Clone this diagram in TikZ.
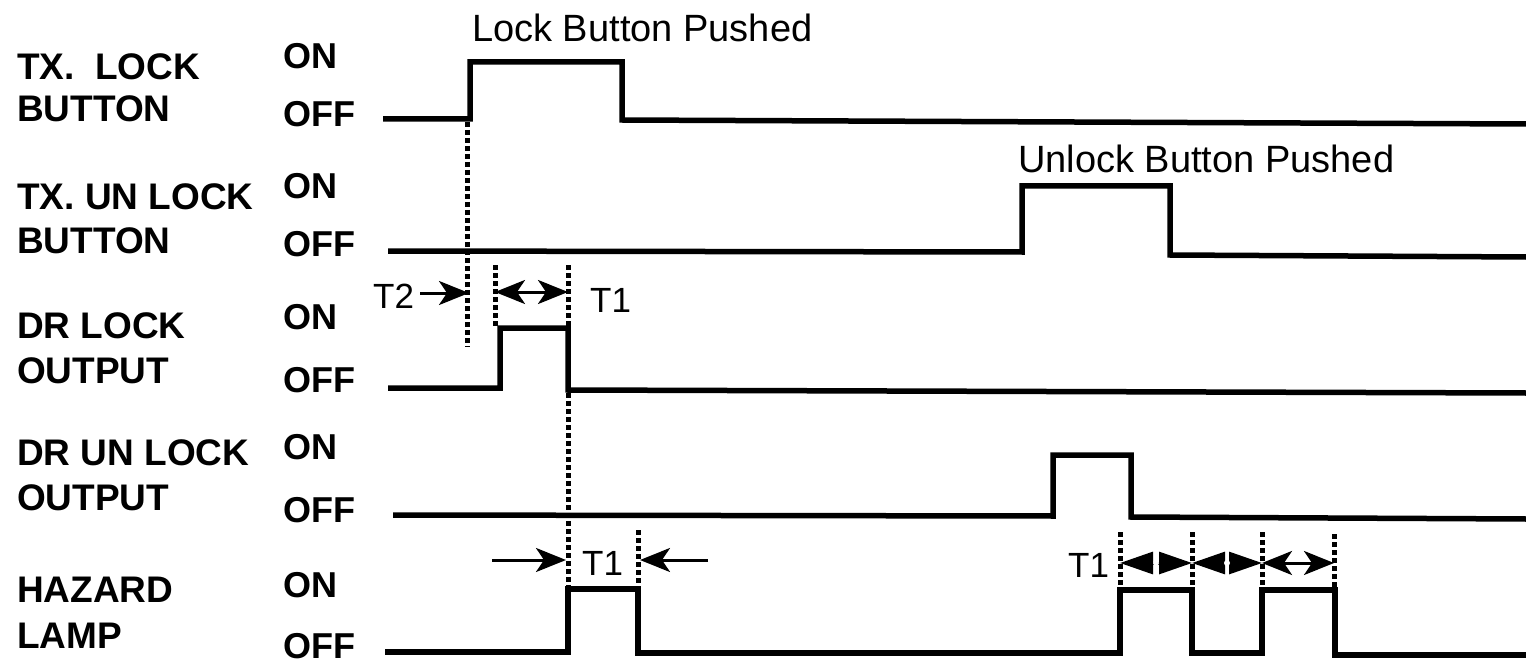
\documentclass[tikz,border=0pt]{standalone}
\usepackage{fontspec}
\setmainfont{Liberation Sans}
\usetikzlibrary{arrows.meta,calc}
\begin{document}
\begin{tikzpicture}[x=1pt,y=-1pt,
  lbl/.style={anchor=base west,inner sep=0pt,font=\fontsize{37}{37}\selectfont\bfseries},
  lvl/.style={anchor=base west,inner sep=0pt,font=\fontsize{36}{36}\selectfont\bfseries},
  note/.style={anchor=base west,inner sep=0pt,font=\fontsize{38}{38}\selectfont},
  tlbl/.style={anchor=base west,inner sep=0pt,font=\fontsize{35}{35}\selectfont},
  sig/.style={line width=5.5pt,line join=miter},
  dots/.style={line width=5pt,dash pattern=on 5pt off 3pt},
  tip/.tip={Stealth[length=30pt,width=24pt,inset=8pt]},
  tarr/.style={line width=3pt,-tip},
  tdbl/.style={line width=3pt,tip-tip},
  tdia/.style={line width=3pt,{Triangle[length=33pt,width=22pt]}-{Triangle[length=33pt,width=22pt]}}]
\useasboundingbox (0,0) rectangle (1526,663);
% row labels
\node[lbl] (l1a) at (17,80) {TX.\ \ LOCK};
\node[lbl] (l1b) at (17,122) {BUTTON};
\node[lbl] (l2a) at (17,210) {TX. UN LOCK};
\node[lbl] (l2b) at (17,253) {BUTTON};
\node[lbl] (l3a) at (17,338) {DR LOCK};
\node[lbl] (l3b) at (17,383) {OUTPUT};
\node[lbl] (l4a) at (17,465) {DR UN LOCK};
\node[lbl] (l4b) at (17,510) {OUTPUT};
\node[lbl] (l5a) at (17,602) {HAZARD};
\node[lbl] (l5b) at (17,648) {LAMP};
% levels
\node[lvl] (on1) at (283,69) {ON};
\node[lvl] (off1) at (283,127) {OFF};
\node[lvl] (on2) at (283,199) {ON};
\node[lvl] (off2) at (283,256) {OFF};
\node[lvl] (on3) at (283,329) {ON};
\node[lvl] (off3) at (283,392) {OFF};
\node[lvl] (on4) at (283,459) {ON};
\node[lvl] (off4) at (283,522) {OFF};
\node[lvl] (on5) at (283,597) {ON};
\node[lvl] (off5) at (283,658) {OFF};
% notes
\node[note] (n1) at (472,42) {Lock Button Pushed};
\node[note] (n2) at (1018,173) {Unlock Button Pushed};
% waveforms
\draw[sig] (383,119) -- (470,119) -- (470,62) -- (622,62) -- (622,120) -- (1526,124);
\draw[sig] (388,251) -- (1022,252) -- (1022,186) -- (1170,186) -- (1170,255) -- (1526,257);
\draw[sig] (388,388) -- (500,388) -- (500,328) -- (568,328) -- (568,390) -- (1526,393);
\draw[sig] (393,515) -- (1053,516) -- (1053,455) -- (1131,455) -- (1131,517) -- (1526,519);
\draw[sig] (385,652) -- (568,652) -- (568,589) -- (638,589) -- (638,653) -- (1120,653)
  -- (1120,590) -- (1192,590) -- (1192,653) -- (1262,653) -- (1262,590) -- (1335,590)
  -- (1335,655) -- (1526,655);
% dotted markers
\coordinate (d1t) at (467,122); \coordinate (d1b) at (467,347);
\coordinate (d2t) at (495,265); \coordinate (d2b) at (495,326);
\coordinate (d3t) at (568,265); \coordinate (d3b) at (568,587);
\coordinate (d4t) at (638,530); \coordinate (d4b) at (638,587);
\coordinate (d5t) at (1120,532); \coordinate (d5b) at (1120,588);
\coordinate (d6t) at (1192,532); \coordinate (d6b) at (1192,588);
\coordinate (d7t) at (1262,532); \coordinate (d7b) at (1262,588);
\coordinate (d8t) at (1334,534); \coordinate (d8b) at (1334,588);
\foreach \a in {1,...,8} \draw[dots] (d\a t) -- (d\a b);
% T2 / T1 annotations (row 3)
\node[tlbl] (t2) at (373,308) {T2};
\node[tlbl] (t1a) at (590,312) {T1};
\coordinate (t2s) at (420,293);
\coordinate (t2e) at (469,293);
\draw[tarr] (t2s) -- (t2e);
\coordinate (t1s) at (495,292);
\coordinate (t1e) at (568,292);
\draw[tdbl] (t1s) -- (t1e);
% hazard T1 (left)
\node[tlbl] (t1b) at (582,575) {T1};
\coordinate (h1s) at (492,560); \coordinate (h1e) at (566,560);
\coordinate (h2s) at (708,560); \coordinate (h2e) at (640,560);
\draw[tarr] (h1s) -- (h1e);
\draw[tarr] (h2s) -- (h2e);
% hazard T1 (right)
\node[tlbl] (t1c) at (1068,577) {T1};
\coordinate (r1) at (1120,563); \coordinate (r2) at (1192,563);
\coordinate (r3) at (1262,563); \coordinate (r4) at (1334,563);
\draw[tdia] (r1) -- (r2);
\draw[tdia] (r2) -- (r3);
\draw[tdbl] (r3) -- (r4);
\fill[white] ($(r1)!0.5!(r2)$) circle (3pt);
\fill[white] ($(r2)!0.5!(r3)$) circle (3pt);
\end{tikzpicture}
\end{document}
